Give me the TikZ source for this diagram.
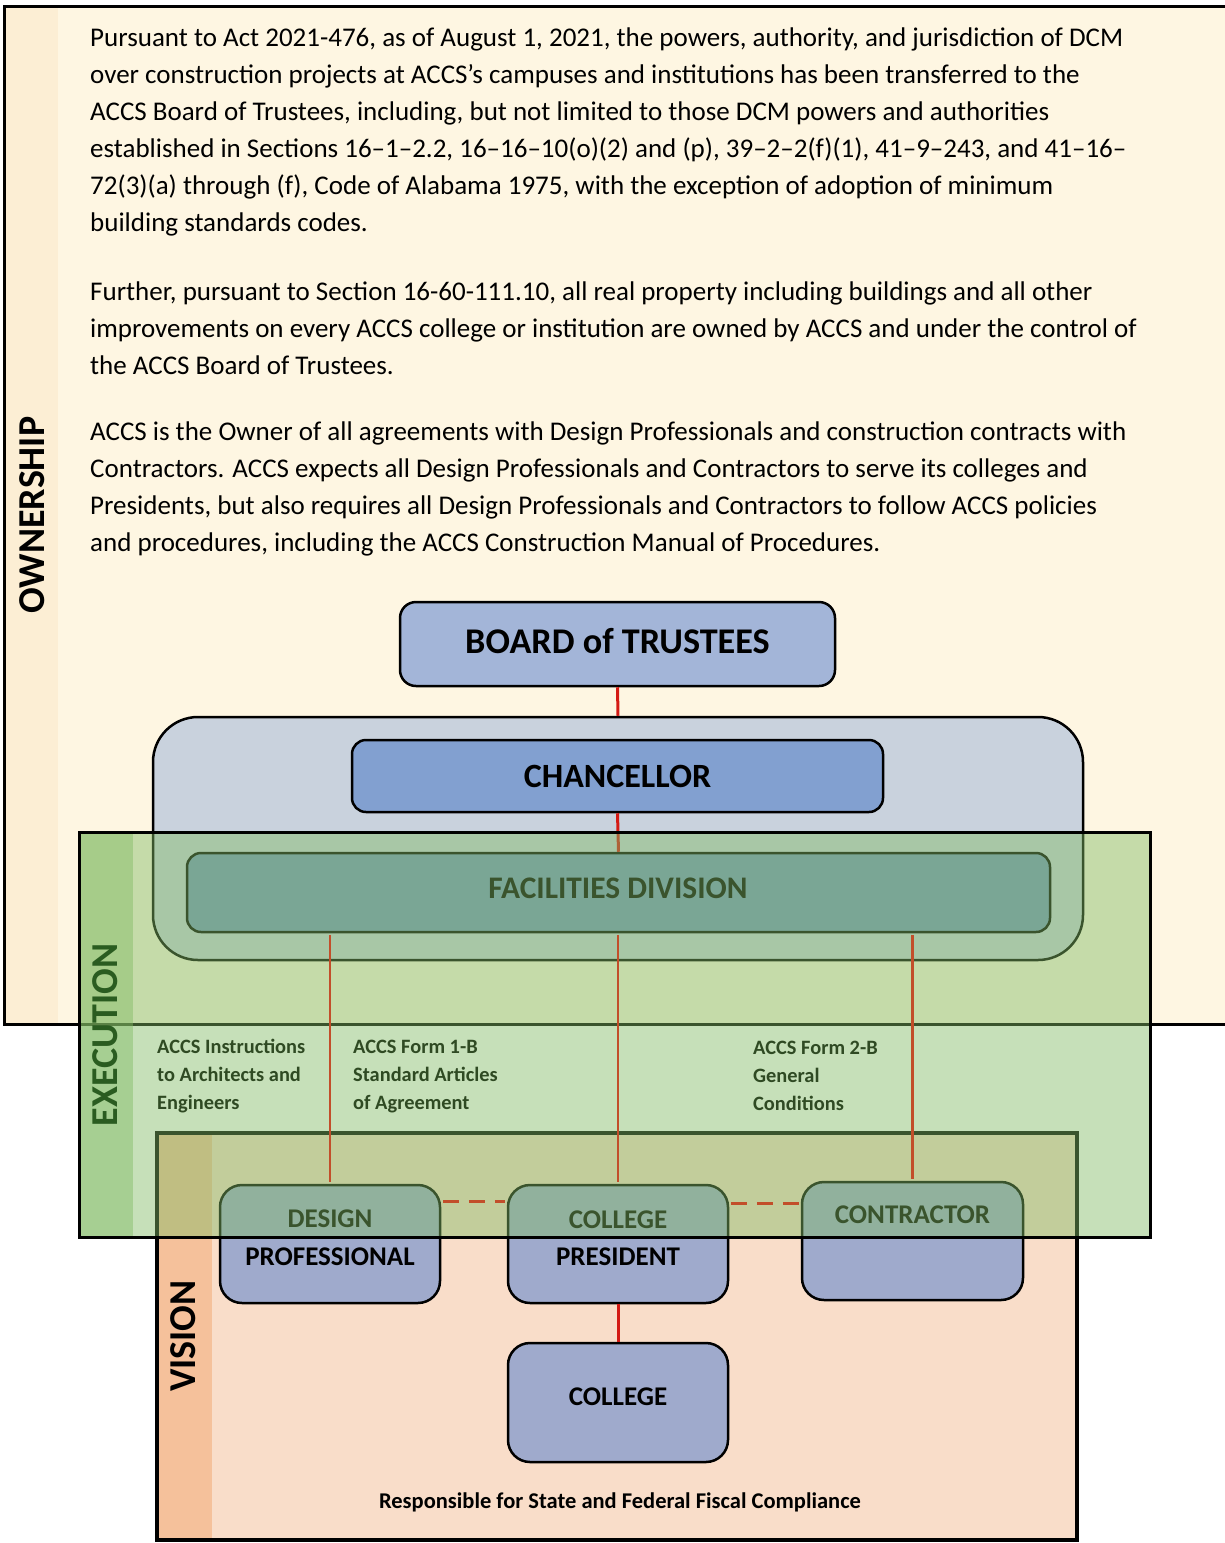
\documentclass[tikz,border=0pt]{standalone}
\usepackage{fontspec}
\setmainfont{Carlito}
\usetikzlibrary{calc}
\definecolor{owncream}{HTML}{FEF6E2}
\definecolor{ownstrip}{HTML}{FCEED4}
\definecolor{boardblue}{HTML}{A3B5D8}
\definecolor{chanblue}{HTML}{82A0D0}
\definecolor{contgrey}{HTML}{C9D2DD}
\definecolor{facblue}{HTML}{7695BF}
\definecolor{personblue}{HTML}{9FAACC}
\definecolor{visionfill}{HTML}{F9DDC9}
\definecolor{visionstrip}{HTML}{F5C19B}
\definecolor{execgreen}{HTML}{81BB64}
\definecolor{darkgreen}{HTML}{2F4A23}
\definecolor{linkred}{HTML}{D41A14}
\definecolor{linkorange}{HTML}{C24E2A}
\begin{document}
\begin{tikzpicture}[x=1pt,y=-1pt,
  rbox/.style={draw=black, line width=2.5pt, rounded corners=#1, inner sep=0pt},
  para/.style={anchor=base west, inner sep=0pt, font=\fontsize{27}{30}\selectfont},
  lbl/.style={anchor=base west, inner sep=0pt, text=darkgreen, font=\fontsize{20.4}{24}\selectfont\bfseries},
  sidelbl/.style={rotate=90, inner sep=0pt, font=\fontsize{38}{42}\selectfont\bfseries},
  boxtxt/.style={inner sep=0pt, font=\fontsize{27}{30}\selectfont\bfseries},
  link/.style={draw=linkred, line width=3pt},
  olink/.style={draw=linkorange, line width=2.5pt},
  dlink/.style={draw=linkorange, line width=3pt, dash pattern=on 16pt off 10pt}
]
\useasboundingbox (0,0) rectangle (1225,1543);
\clip (0,0) rectangle (1225,1543);
\fill[white] (0,0) rectangle (1225,1543);

% ---------- OWNERSHIP region ----------
\fill[owncream] (4,6) rectangle (1260,1024);
\fill[ownstrip] (4,6) rectangle (58,1024);
\draw[black, line width=3pt] (1260,6) -- (4,6) -- (4,1024) -- (1260,1024);
\node[sidelbl] (ownlbl) at (32,515) {OWNERSHIP};

\node[para] (a1) at (90,46.5) {Pursuant to Act 2021-476, as of August 1, 2021, the powers, authority, and jurisdiction of DCM};
\node[para] (a2) at (90,83.5) {over construction projects at ACCS’s campuses and institutions has been transferred to the};
\node[para] (a3) at (90,120.5) {ACCS Board of Trustees, including, but not limited to those DCM powers and authorities};
\node[para] (a4) at (90,157.5) {established in Sections 16–1–2.2, 16–16–10(o)(2) and (p), 39–2–2(f)(1), 41–9–243, and 41–16–};
\node[para] (a5) at (90,194.5) {72(3)(a) through (f), Code of Alabama 1975, with the exception of adoption of minimum};
\node[para] (a6) at (90,231.5) {building standards codes.};
\node[para] (b1) at (90,300.5) {Further, pursuant to Section 16-60-111.10, all real property including buildings and all other};
\node[para] (b2) at (90,337.5) {improvements on every ACCS college or institution are owned by ACCS and under the control of};
\node[para] (b3) at (90,374.5) {the ACCS Board of Trustees.};
\node[para] (c1) at (90,440.5) {ACCS is the Owner of all agreements with Design Professionals and construction contracts with};
\node[para] (c2) at (90,477.5) {Contractors. ACCS expects all Design Professionals and Contractors to serve its colleges and};
\node[para] (c3) at (90,514.5) {Presidents, but also requires all Design Professionals and Contractors to follow ACCS policies};
\node[para] (c4) at (90,551.5) {and procedures, including the ACCS Construction Manual of Procedures.};

% ---------- hierarchy top ----------
\node[rbox=16pt, fill=boardblue, minimum width=435pt, minimum height=84pt] (board) at (617.5,644) {};
\node[boxtxt, font=\fontsize{36.2}{40}\selectfont\bfseries] (boardt) at (617.5,641) {BOARD of TRUSTEES};
\node[rbox=45pt, fill=contgrey, minimum width=930pt, minimum height=243pt] (cont) at (618,838.5) {};
\draw[link] (board.south) -- (cont.north);
\node[rbox=14pt, fill=chanblue, minimum width=531pt, minimum height=72pt] (chan) at (617.5,776) {};
\node[boxtxt, font=\fontsize{34}{37}\selectfont\bfseries] (chant) at (617.5,776) {CHANCELLOR};
\node[rbox=14pt, fill=facblue, minimum width=863pt, minimum height=79pt] (fac) at (618.5,892.5) {};
\node[boxtxt, font=\fontsize{31.4}{34}\selectfont\bfseries] (fact) at (618,888) {FACILITIES DIVISION};
\draw[link] (chan.south) -- (fac.north);

% ---------- VISION region ----------
\fill[visionfill] (157,1133) rectangle (1077,1540);
\fill[visionstrip] (157,1133) rectangle (212,1540);
\draw[black, line width=3.5pt] (157,1133) rectangle (1077,1540);
\node[sidelbl] (vislbl) at (183,1336) {VISION};

\node[rbox=22pt, fill=personblue, minimum width=220pt, minimum height=118pt] (dp) at (330,1244) {};
\node[rbox=22pt, fill=personblue, minimum width=220pt, minimum height=118pt] (pres) at (618,1244) {};
\node[rbox=22pt, fill=personblue, minimum width=221pt, minimum height=118pt] (con) at (912.5,1241) {};
\node[rbox=22pt, fill=personblue, minimum width=220pt, minimum height=119pt] (col) at (618,1402.5) {};
\node[boxtxt] (dpt1) at (330,1219) {DESIGN};
\node[boxtxt] (dpt2) at (330,1257) {PROFESSIONAL};
\node[boxtxt] (prt1) at (618,1220) {COLLEGE};
\node[boxtxt] (prt2) at (618,1257) {PRESIDENT};
\node[boxtxt] (cont1) at (912.5,1215) {CONTRACTOR};
\node[boxtxt] (colt) at (618,1397) {COLLEGE};

\draw[link] (pres.south) -- (col.north);

\node[inner sep=0pt, font=\fontsize{22.5}{26}\selectfont\bfseries] (resp) at (620,1502) {Responsible for State and Federal Fiscal Compliance};

% ---------- EXECUTION overlay ----------
\fill[execgreen, fill opacity=0.45] (79,832) rectangle (1150,1237);
\fill[execgreen, fill opacity=0.45] (79,832) rectangle (133,1237);
\draw[black, line width=3pt] (79,832) rectangle (1150,1237);
\node[sidelbl, text=darkgreen!90!green] (exlbl) at (105,1035) {EXECUTION};

% connectors inside the execution band
\draw[olink] ([yshift=-1.5pt]fac.south -| dp.north) -- ([yshift=1.5pt]dp.north);
\draw[olink] ([yshift=-1.5pt]fac.south -| pres.north) -- ([yshift=1.5pt]pres.north);
\draw[olink] ([yshift=-1.5pt]fac.south -| con.north) -- ([yshift=1.5pt]con.north);
\coordinate (dA) at ([yshift=-18pt,xshift=1.5pt]dp.north east);
\coordinate (dAe) at ([xshift=-1.5pt]dA -| pres.west);
\draw[dlink] (dA) -- (dAe);
\coordinate (dB) at ([yshift=-20pt,xshift=1.5pt]pres.north east);
\coordinate (dBe) at ([xshift=-1.5pt]dB -| con.west);
\draw[dlink] (dB) -- (dBe);

\node[lbl] (i1) at (157,1053) {ACCS Instructions};
\node[lbl] (i2) at (157,1081) {to Architects and};
\node[lbl] (i3) at (157,1109) {Engineers};
\node[lbl] (f1) at (353,1053) {ACCS Form 1-B};
\node[lbl] (f2) at (353,1081) {Standard Articles};
\node[lbl] (f3) at (353,1109) {of Agreement};
\node[lbl] (g1) at (753,1054) {ACCS Form 2-B};
\node[lbl] (g2) at (753,1082) {General};
\node[lbl] (g3) at (753,1110) {Conditions};
\end{tikzpicture}
\end{document}
